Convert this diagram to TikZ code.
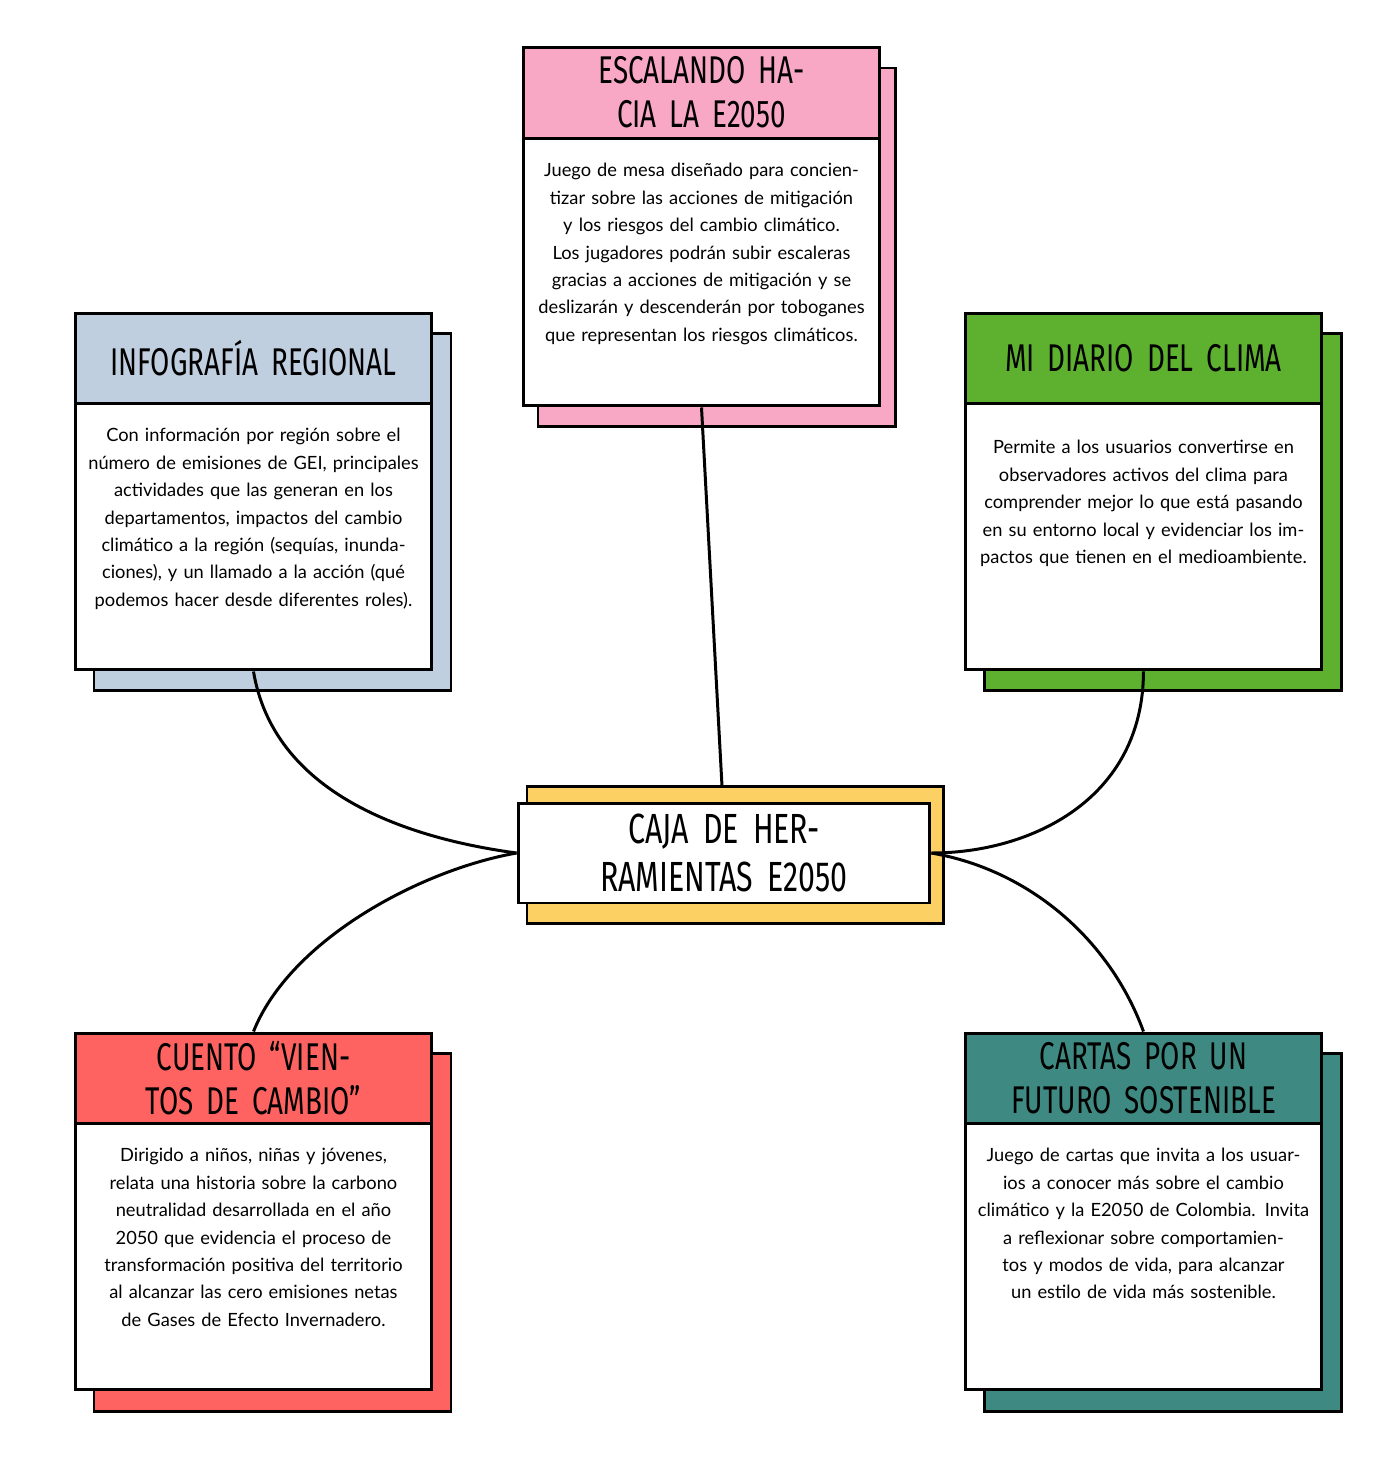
\documentclass[tikz,border=0pt]{standalone}
\usepackage{fontspec}
\setmainfont{Lato}
\newfontfamily\headfont[FakeStretch=0.72]{Fira Sans}
\definecolor{cardpink}{HTML}{F8A8C5}
\definecolor{cardblue}{HTML}{C0CFDF}
\definecolor{cardgreen}{HTML}{5DB12E}
\definecolor{cardred}{HTML}{FF6361}
\definecolor{cardteal}{HTML}{3E8A82}
\definecolor{cardyellow}{HTML}{FCD062}
\tikzset{
  card/.style={shape=rectangle, draw, line width=1.7pt, minimum width=7.14cm},
  shade/.style={draw, line width=1.7pt},
  headtext/.style={align=center, text width=6.9cm, font=\headfont\fontsize{22}{25}\selectfont},
  bodytext/.style={anchor=north, align=center, text width=6.7cm, inner sep=0pt, font=\fontsize{10.4}{15.6}\selectfont},
  wire/.style={line width=1.7pt}
}
\begin{document}
\begin{tikzpicture}[x=0.02cm, y=-0.02cm]
	\useasboundingbox (0,0) rectangle (1393,1458);
	% Shadows:
	\draw[shade, fill=cardpink] (538,68) rectangle (895,426);
	\draw[shade, fill=cardblue] (94,333) rectangle (451,690);
	\draw[shade, fill=cardgreen] (984,333) rectangle (1341,690);
	\draw[shade, fill=cardred] (94,1053) rectangle (451,1411);
	\draw[shade, fill=cardteal] (984,1053) rectangle (1341,1411);
	\draw[shade, fill=cardyellow] (527,786) rectangle (943,923);
	% Cards:
	\node[card, fill=white, minimum height=5.36cm] (pinkbody) at (701.5,272) {};
	\node[card, fill=cardpink, minimum height=1.82cm, headtext] (pinkhead) at (701.5,92.5) {ESCALANDO HACIA LA E2050};
	\node[bodytext] (pinktext) at (701.5,163) {Juego de mesa diseñado para concientizar sobre las acciones de mitigación y los riesgos del cambio climático. Los jugadores podrán subir escaleras gracias a acciones de mitigación y se deslizarán y descenderán por toboganes que representan los riesgos climáticos.};
	\node[card, fill=white, minimum height=5.34cm] (bluebody) at (253.5,536.5) {};
	\node[card, fill=cardblue, minimum height=1.8cm, headtext] (bluehead) at (253.5,358) {INFOGRAFÍA REGIONAL};
	\node[bodytext] (bluetext) at (253.5,428) {Con información por región sobre el número de emisiones de GEI, principales actividades que las generan en los departamentos, impactos del cambio climático a la región (sequías, inundaciones), y un llamado a la acción (qué podemos hacer desde diferentes roles).};
	\node[card, fill=white, minimum height=5.34cm] (greenbody) at (1143.5,536.5) {};
	\node[card, fill=cardgreen, minimum height=1.8cm, headtext] (greenhead) at (1143.5,358) {MI DIARIO DEL CLIMA};
	\node[bodytext] (greentext) at (1143.5,440) {Permite a los usuarios convertirse en observadores activos del clima para comprender mejor lo que está pasando en su entorno local y evidenciar los impactos que tienen en el medioambiente.};
	\node[card, fill=white, minimum height=5.34cm] (redbody) at (253.5,1256.5) {};
	\node[card, fill=cardred, minimum height=1.8cm, headtext] (redhead) at (253.5,1078) {CUENTO “VIENTOS DE CAMBIO”};
	\node[bodytext] (redtext) at (253.5,1148) {Dirigido a niños, niñas y jóvenes, relata una historia sobre la carbono neutralidad desarrollada en el año 2050 que evidencia el proceso de transformación positiva del territorio al alcanzar las cero emisiones netas de Gases de Efecto Invernadero.};
	\node[card, fill=white, minimum height=5.34cm] (tealbody) at (1143.5,1256.5) {};
	\node[card, fill=cardteal, minimum height=1.8cm, headtext] (tealhead) at (1143.5,1078) {CARTAS POR UN FUTURO SOSTENIBLE};
	\node[bodytext] (tealtext) at (1143.5,1148) {Juego de cartas que invita a los usuarios a conocer más sobre el cambio climático y la E2050 de Colombia. Invita a reflexionar sobre comportamientos y modos de vida, para alcanzar un estilo de vida más sostenible.};
	% Centre:
	\node[card, fill=white, minimum width=8.24cm, minimum height=2cm, headtext, text width=7.6cm, font=\headfont\fontsize{24}{27}\selectfont] (hub) at (724,853) {CAJA DE HERRAMIENTAS E2050};
	% Wires:
	\coordinate (hubtop) at (722,786);
	\draw[wire] (pinkbody.south) -- (hubtop);
	\draw[wire] (bluebody.south) .. controls (275,800) and (420,840) .. (hub.west);
	\draw[wire] (greenbody.south) .. controls (1143,800) and (1030,853) .. (hub.east);
	\draw[wire] (hub.west) .. controls (420,870) and (290,940) .. (redhead.north);
	\draw[wire] (hub.east) .. controls (1030,870) and (1110,940) .. (tealhead.north);
\end{tikzpicture}
\end{document}
